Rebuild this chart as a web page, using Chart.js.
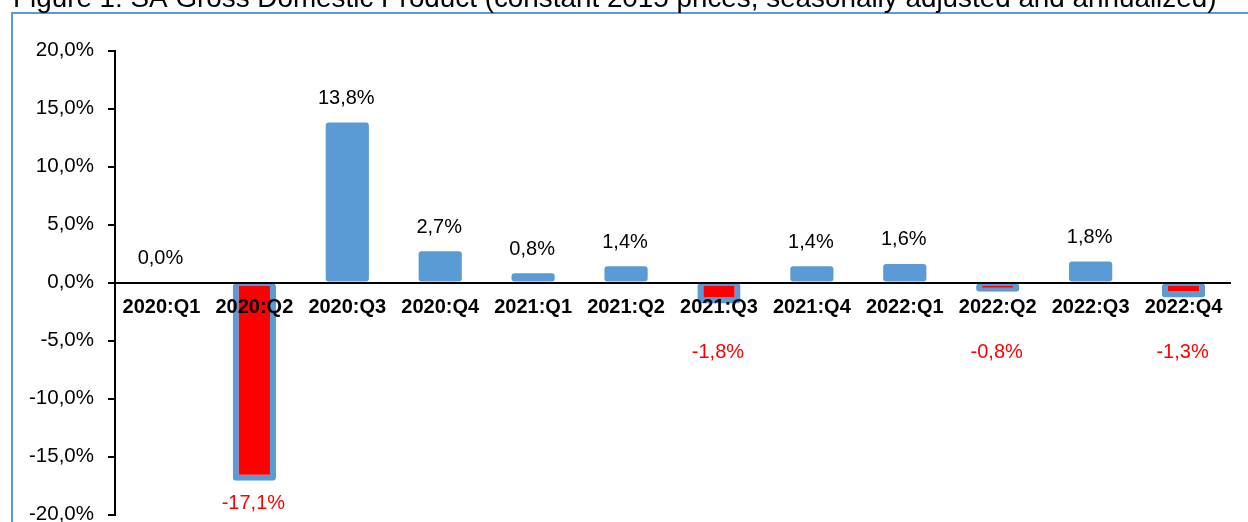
<!DOCTYPE html>
<html>
<head>
<meta charset="utf-8">
<script src="https://cdn.jsdelivr.net/npm/chart.js@4.4.1/dist/chart.umd.min.js"></script>
<style>
  html, body { margin: 0; padding: 0; background: #fff; overflow: hidden; }
  #wrap { position: relative; width: 1248px; height: 522px; overflow: hidden; }
  #frame { position: absolute; left: 10.5px; top: 12px; width: 1300px; height: 600px;
           border-left: 2px solid #5B9BD5; border-top: 2px solid #5B9BD5; box-sizing: border-box; }
  canvas { position: absolute; left: 0; top: 0; }
</style>
</head>
<body>
<div id="wrap">
  <div id="frame"></div>
  <canvas id="c" width="1248" height="560"></canvas>
</div>
<script>
const titleText = "Figure 1: SA Gross Domestic Product (constant 2015 prices, seasonally adjusted and annualized)";
const categories = ["2020:Q1","2020:Q2","2020:Q3","2020:Q4","2021:Q1","2021:Q2","2021:Q3","2021:Q4","2022:Q1","2022:Q2","2022:Q3","2022:Q4"];
const gdpGrowth = [0.0, -17.1, 13.8, 2.7, 0.8, 1.4, -1.8, 1.4, 1.6, -0.8, 1.8, -1.3];
const yTickValues = [-20, -15, -10, -5, 0, 5, 10, 15, 20];

const FONT = "'Liberation Sans', Arial, sans-serif";
const BLUE = '#5B9BD5';
const RED = '#FF0000';
const fmt = v => v.toFixed(1).replace('.', ',') + '%';

const titlePlugin = {
  id: 'cutTitle',
  afterDraw(chart) {
    const ctx = chart.ctx;
    ctx.save();
    let size = 26;
    ctx.font = size + 'px ' + FONT;
    const w = ctx.measureText(titleText).width;
    size = size * 1204 / w;
    ctx.font = size + 'px ' + FONT;
    ctx.fillStyle = '#000';
    ctx.textAlign = 'left';
    ctx.textBaseline = 'alphabetic';
    ctx.fillText(titleText, 13, 6.5);
    ctx.restore();
  }
};

const labelPlugin = {
  id: 'valueLabels',
  afterDatasetsDraw(chart) {
    const ctx = chart.ctx;
    const meta = chart.getDatasetMeta(0);
    const zeroY = chart.scales.y.getPixelForValue(0);
    ctx.save();
    ctx.font = '20px ' + FONT;
    ctx.textAlign = 'center';
    ctx.textBaseline = 'middle';
    meta.data.forEach((bar, i) => {
      const v = gdpGrowth[i];
      if (v >= 0) {
        ctx.fillStyle = '#000';
        ctx.fillText(fmt(v), bar.x - 1, bar.y - 24);
      } else {
        ctx.fillStyle = RED;
        ctx.fillText(fmt(v), bar.x - 1, Math.max(bar.y + 23, zeroY + 70));
      }
    });
    ctx.restore();
  }
};

new Chart(document.getElementById('c'), {
  type: 'bar',
  data: {
    labels: categories,
    datasets: [{
      data: gdpGrowth,
      backgroundColor: ctx => (gdpGrowth[ctx.dataIndex] < 0 ? RED : BLUE),
      borderColor: BLUE,
      borderWidth: ctx => (gdpGrowth[ctx.dataIndex] < 0 ? {top: 2, bottom: 6, left: 6, right: 6} : 0),
      borderSkipped: false,
      borderRadius: 3,
      barPercentage: 0.465,
      categoryPercentage: 1.0
    }]
  },
  options: {
    responsive: false,
    animation: false,
    layout: { padding: { top: 50.5, bottom: 45.5, left: 0, right: 18 } },
    plugins: { legend: { display: false }, tooltip: { enabled: false }, title: { display: false } },
    scales: {
      x: {
        type: 'category',
        position: { y: 0 },
        offset: true,
        grid: { display: false, drawTicks: false },
        border: { display: true, color: '#000', width: 2, z: 1 },
        ticks: { color: '#000', font: { family: FONT, size: 20, weight: 'bold' }, padding: 13, maxRotation: 0, autoSkip: false, z: 1 },
        afterFit(s) { s.height = 0; }
      },
      y: {
        min: -20, max: 20,
        afterBuildTicks(s) { s.ticks = yTickValues.map(v => ({ value: v })); },
        grid: { drawOnChartArea: false, drawTicks: true, tickLength: 7, color: '#000', lineWidth: 2 },
        border: { display: true, color: '#000', width: 2 },
        ticks: { color: '#000', font: { family: FONT, size: 20.5 }, padding: 14, callback: v => fmt(v) },
        afterFit(s) { s.width = 115; }
      }
    }
  },
  plugins: [labelPlugin, titlePlugin]
});
</script>
</body>
</html>
